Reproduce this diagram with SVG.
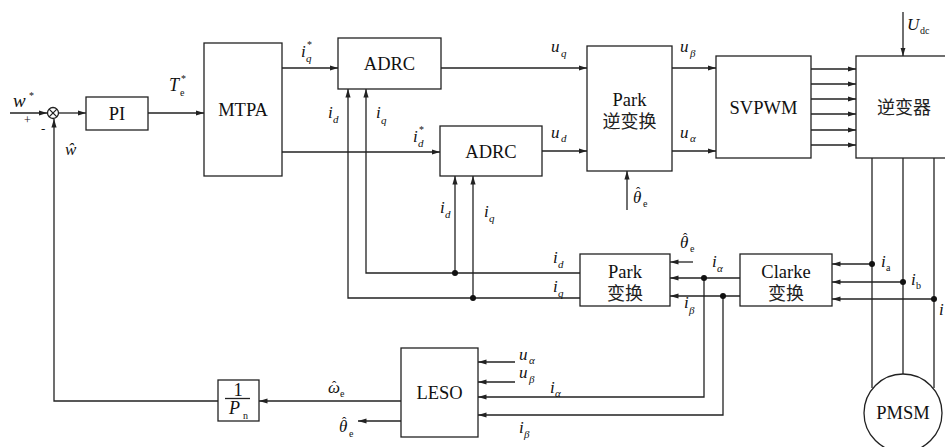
<svg xmlns="http://www.w3.org/2000/svg" width="945" height="447" viewBox="0 0 945 447">
<defs>
<marker id="ah" markerWidth="9" markerHeight="6" refX="8.5" refY="3" orient="auto" markerUnits="userSpaceOnUse"><path d="M0,0.4 L8.5,3 L0,5.6 z" fill="#222"/></marker>
<style>
.ln{stroke:#222;stroke-width:1.3;fill:none}
.ar{stroke:#222;stroke-width:1.3;fill:none;marker-end:url(#ah)}
.box{fill:#fff;stroke:#222;stroke-width:1.3}
.lbl{font-family:"Liberation Serif","Times New Roman",serif;font-size:18.5px;fill:#111;text-anchor:middle}
.v{font-family:"Liberation Serif",serif;font-style:italic;font-size:17px;fill:#111}
.hat{font-family:"Liberation Serif",serif;font-style:normal;font-size:13px;fill:#111}
.s{font-family:"Liberation Serif",serif;font-style:normal;font-size:10px;fill:#111}
.si{font-family:"Liberation Serif",serif;font-style:italic;font-size:11px;fill:#111}
.cn{font-family:"Noto Sans CJK SC",sans-serif;font-size:18px;fill:#222;text-anchor:middle}
.dot{fill:#111}
</style>
</defs>
<rect width="945" height="447" fill="#fff"/>

<g id="connectors">
<path class="ar" d="M10,113 H47"/>
<path class="ar" d="M59,113 H86"/>
<path class="ar" d="M148,113 H204"/>
<path class="ar" d="M218,401 H54 V119"/>
<path class="ar" d="M282,68 H338"/>
<path class="ar" d="M282,152 H440"/>
<path class="ar" d="M441,68 H587"/>
<path class="ar" d="M542,151 H587"/>
<path class="ar" d="M672,68 H716"/>
<path class="ar" d="M672,151 H716"/>
<path class="ar" d="M627,210 V171"/>
<path class="ar" d="M811,69 H856"/>
<path class="ar" d="M811,84 H856"/>
<path class="ar" d="M811,99 H856"/>
<path class="ar" d="M811,114 H856"/>
<path class="ar" d="M811,130 H856"/>
<path class="ar" d="M811,145 H856"/>
<path class="ar" d="M903,12 V56"/>
<path class="ln" d="M872,158 V388"/>
<path class="ln" d="M903,158 V374"/>
<path class="ln" d="M934,158 V388"/>
<path class="ar" d="M872,264 H832"/>
<path class="ar" d="M903,282 H832"/>
<path class="ar" d="M934,299 H832"/>
<path class="ar" d="M740,278 H670"/>
<path class="ar" d="M740,296 H670"/>
<path class="ar" d="M693,262 H670"/>
<path class="ar" d="M704,278 V397 H478"/>
<path class="ar" d="M723,296 V415 H478"/>
<path class="ar" d="M580,273 H366 V89"/>
<path class="ar" d="M580,298 H348 V89"/>
<path class="ar" d="M455,273 V176"/>
<path class="ar" d="M473,298 V176"/>
<path class="ar" d="M515,362 H478"/>
<path class="ar" d="M515,382 H478"/>
<path class="ar" d="M401,401 H259"/>
<path class="ar" d="M401,421 H358"/>
<circle class="dot" cx="872" cy="264" r="3"/>
<circle class="dot" cx="903" cy="282" r="3"/>
<circle class="dot" cx="934" cy="299" r="3"/>
<circle class="dot" cx="704" cy="278" r="3"/>
<circle class="dot" cx="723" cy="296" r="3"/>
<circle class="dot" cx="455" cy="273" r="3"/>
<circle class="dot" cx="473" cy="298" r="3"/>
</g>

<g id="sum">
<circle cx="53" cy="113" r="5.5" fill="#fff" stroke="#222" stroke-width="1.3"/>
<path class="ln" d="M49.1,109.1 L56.9,116.9 M56.9,109.1 L49.1,116.9"/>
</g>
<g id="PI"><rect class="box" x="86" y="97" width="62" height="33"/><text class="lbl" x="117" y="120">PI</text></g>
<g id="MTPA"><rect class="box" x="204" y="43" width="78" height="133"/><text class="lbl" x="243" y="116">MTPA</text></g>
<g id="ADRC1"><rect class="box" x="338" y="38" width="103" height="51"/><text class="lbl" x="389.5" y="70">ADRC</text></g>
<g id="ADRC2"><rect class="box" x="440" y="126" width="102" height="50"/><text class="lbl" x="491" y="158">ADRC</text></g>
<g id="ParkInv"><rect class="box" x="587" y="46" width="85" height="125"/><text class="lbl" x="629.5" y="106">Park</text><text class="cn" x="629.5" y="128">逆变换</text></g>
<g id="SVPWM"><rect class="box" x="716" y="56" width="95" height="102"/><text class="lbl" x="763.5" y="114">SVPWM</text></g>
<g id="Inverter"><rect class="box" x="856" y="56" width="100" height="102"/><text class="cn" x="877" y="114" style="text-anchor:start">逆变器</text></g>
<g id="Park"><rect class="box" x="580" y="254" width="90" height="52"/><text class="lbl" x="625" y="278">Park</text><text class="cn" x="625" y="300">变换</text></g>
<g id="Clarke"><rect class="box" x="740" y="254" width="92" height="52"/><text class="lbl" x="786" y="278">Clarke</text><text class="cn" x="786" y="300">变换</text></g>
<g id="LESO"><rect class="box" x="401" y="348" width="77" height="89"/><text class="lbl" x="439.5" y="399">LESO</text></g>
<g id="Pn"><rect class="box" x="218" y="380" width="41" height="41"/><text class="lbl" x="238" y="396">1</text><path class="ln" d="M225,398.5 H250"/><text class="v" x="229" y="414" style="font-size:18px">P<tspan class="s" x="243" y="419">n</tspan></text></g>
<g id="PMSM"><circle cx="903" cy="413" r="39" fill="#fff" stroke="#222" stroke-width="1.3"/><text class="lbl" x="903" y="419">PMSM</text></g>

<g id="labels">
<text class="v" x="13" y="107" style="font-size:19px">w<tspan class="s" x="29" y="99">*</tspan></text>
<text class="s" x="24" y="124" style="font-size:12px">+</text>
<text class="s" x="41" y="133" style="font-size:13px">-</text>
<text class="v" x="65" y="155">ŵ</text>
<text class="v" x="169" y="91" style="font-size:18px">T<tspan class="s" x="180" y="96">e</tspan><tspan class="s" x="181" y="82">*</tspan></text>
<text class="v" x="301" y="57">i<tspan class="si" x="306" y="62">q</tspan><tspan class="s" x="307" y="48">*</tspan></text>
<text class="v" x="328" y="118">i<tspan class="si" x="333" y="123">d</tspan></text>
<text class="v" x="376" y="118">i<tspan class="si" x="381" y="124">q</tspan></text>
<text class="v" x="413" y="142">i<tspan class="si" x="418" y="147">d</tspan><tspan class="s" x="419" y="133">*</tspan></text>
<text class="v" x="551" y="52">u<tspan class="si" x="561" y="57">q</tspan></text>
<text class="v" x="551" y="138">u<tspan class="si" x="561" y="142">d</tspan></text>
<text class="v" x="680" y="52">u<tspan class="si" x="690" y="57">β</tspan></text>
<text class="v" x="680" y="138">u<tspan class="si" x="690" y="142">α</tspan></text>
<text class="v" x="633" y="203">θ<tspan class="hat" x="636" y="196">ˆ</tspan><tspan class="s" x="643" y="207">e</tspan></text>
<text class="v" x="907" y="30">U<tspan class="s" x="920" y="34">dc</tspan></text>
<text class="v" x="440" y="213">i<tspan class="si" x="445" y="218">d</tspan></text>
<text class="v" x="484" y="217">i<tspan class="si" x="489" y="222">q</tspan></text>
<text class="v" x="553" y="263">i<tspan class="si" x="558" y="268">d</tspan></text>
<text class="v" x="553" y="292">i<tspan class="si" x="558" y="297">q</tspan></text>
<text class="v" x="680" y="248">θ<tspan class="hat" x="683" y="242">ˆ</tspan><tspan class="s" x="690" y="252">e</tspan></text>
<text class="v" x="712" y="267">i<tspan class="si" x="717" y="272">α</tspan></text>
<text class="v" x="684" y="308">i<tspan class="si" x="689" y="314">β</tspan></text>
<text class="v" x="881" y="267">i<tspan class="s" x="886" y="271">a</tspan></text>
<text class="v" x="911" y="285">i<tspan class="s" x="916" y="289">b</tspan></text>
<text class="v" x="939" y="315">i</text>
<text class="v" x="519" y="360">u<tspan class="si" x="529" y="364">α</tspan></text>
<text class="v" x="519" y="378">u<tspan class="si" x="529" y="383">β</tspan></text>
<text class="v" x="550" y="393">i<tspan class="si" x="555" y="397">α</tspan></text>
<text class="v" x="519" y="433">i<tspan class="si" x="524" y="438">β</tspan></text>
<text class="v" x="328" y="393">ω<tspan class="hat" x="332" y="390">ˆ</tspan><tspan class="s" x="340" y="397">e</tspan></text>
<text class="v" x="339" y="432">θ<tspan class="hat" x="342" y="426">ˆ</tspan><tspan class="s" x="349" y="437">e</tspan></text>
</g>
</svg>
